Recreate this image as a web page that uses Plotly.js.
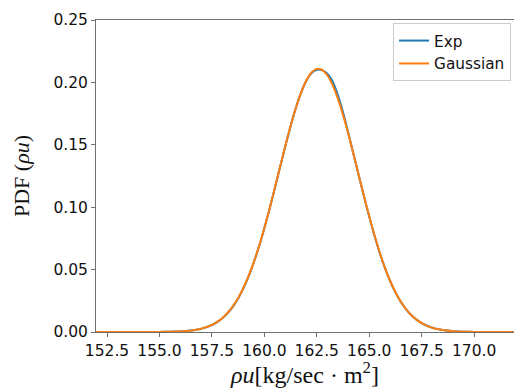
<!DOCTYPE html>
<html>
<head>
<meta charset="utf-8">
<script src="https://cdn.plot.ly/plotly-3.0.1.min.js"></script>
<style>html,body{margin:0;padding:0;background:#fff;}#chart{width:514px;height:388px;}</style>
</head>
<body>
<div id="chart"></div>
<script>
// x grid (rho*u, kg/sec m^2)
var rhoU = [151, 152, 153, 154, 155, 155.5, 156, 156.25, 156.5, 156.75, 157, 157.25, 157.5, 157.75,
  158, 158.25, 158.5, 158.75, 159, 159.25, 159.5, 159.75, 160, 160.25, 160.5, 160.75,
  161, 161.25, 161.5, 161.75, 162, 162.25, 162.5, 162.75, 163, 163.25, 163.5, 163.75,
  164, 164.25, 164.5, 164.75, 165, 165.25, 165.5, 165.75, 166, 166.25, 166.5, 166.75,
  167, 167.25, 167.5, 167.75, 168, 168.25, 168.5, 169, 169.5, 170, 171, 172, 173];

// experimental PDF
var pdfExp = [0, 0, 0, 0.00001, 0.00007, 0.00018, 0.00048, 0.00076, 0.00117, 0.00178, 0.00265, 0.00390, 0.00562, 0.00795,
  0.01106, 0.01513, 0.02035, 0.02690, 0.03495, 0.04460, 0.05590, 0.06880, 0.08320, 0.09880, 0.11530, 0.13220,
  0.14900, 0.16495, 0.17940, 0.19175, 0.20130, 0.20760, 0.21020, 0.20980, 0.20700, 0.20100, 0.19000, 0.17600,
  0.15950, 0.14250, 0.12540, 0.10850, 0.09230, 0.07715, 0.06340, 0.05120, 0.04065, 0.03172, 0.02432, 0.01834,
  0.01360, 0.00992, 0.00712, 0.00502, 0.00348, 0.00237, 0.00158, 0.00067, 0.00027, 0.00010, 0.00001, 0, 0];

// Gaussian fit
var pdfGauss = [0, 0, 0, 0.00001, 0.00007, 0.00019, 0.00050, 0.00078, 0.00120, 0.00183, 0.00272, 0.00399, 0.00574, 0.00811,
  0.01127, 0.01539, 0.02065, 0.02722, 0.03528, 0.04490, 0.05617, 0.06904, 0.08341, 0.09900, 0.11548, 0.13238,
  0.14911, 0.16504, 0.17948, 0.19182, 0.20146, 0.20790, 0.21083, 0.21010, 0.20573, 0.19796, 0.18718, 0.17393,
  0.15880, 0.14247, 0.12561, 0.10881, 0.09265, 0.07750, 0.06370, 0.05146, 0.04085, 0.03186, 0.02441, 0.01839,
  0.01361, 0.00990, 0.00707, 0.00497, 0.00343, 0.00233, 0.00155, 0.00065, 0.00026, 0.00009, 0.00001, 0, 0];

var seriesNames = ['Exp', 'Gaussian'];

var traces = [
  {x: rhoU, y: pdfExp, name: seriesNames[0], type: 'scatter', mode: 'lines',
   line: {color: '#1f77b4', width: 2, shape: 'spline', smoothing: 0.6}},
  {x: rhoU, y: pdfGauss, name: seriesNames[1], type: 'scatter', mode: 'lines',
   line: {color: '#ff7f0e', width: 2, shape: 'spline', smoothing: 0.6}}
];

var spine = '#707070';
var tickFont = {family: 'DejaVu Sans', size: 15.5, color: '#111'};
var layout = {
  width: 514, height: 388,
  margin: {l: 96, r: 0, t: 20, b: 56, pad: 0},
  paper_bgcolor: '#ffffff', plot_bgcolor: '#ffffff',
  font: {family: 'DejaVu Sans', size: 15.5, color: '#111'},
  showlegend: true,
  legend: {x: 0.993, y: 0.99, xanchor: 'right', yanchor: 'top',
    bgcolor: 'rgba(255,255,255,0.8)', bordercolor: '#cccccc', borderwidth: 1,
    font: {family: 'DejaVu Sans', size: 15.3, color: '#111'}, tracegroupgap: 0, itemwidth: 30},
  xaxis: {
    range: [151.975, 171.9], tick0: 152.5, dtick: 2.5, tickformat: '.1f',
    showgrid: false, zeroline: false, showline: true, linecolor: spine, linewidth: 1, mirror: true,
    ticks: 'outside', ticklen: 4, tickcolor: spine, tickwidth: 1,
    tickfont: tickFont,
    title: {text: '<i>ρu</i>[kg/sec · m<sup>2</sup>]', font: {family: 'Liberation Serif', size: 24, color: '#111'}, standoff: 3}
  },
  yaxis: {
    range: [0, 0.25], dtick: 0.05, tickformat: '.2f',
    showgrid: false, zeroline: false, showline: true, linecolor: spine, linewidth: 1,
    ticks: 'outside', ticklen: 4, tickcolor: spine, tickwidth: 1,
    tickfont: tickFont,
    title: {text: 'PDF (<i>ρu</i>)', font: {family: 'Liberation Serif', size: 22, color: '#111'}, standoff: 17}
  }
};

Plotly.newPlot('chart', traces, layout, {displayModeBar: false, staticPlot: true});
</script>
</body>
</html>
